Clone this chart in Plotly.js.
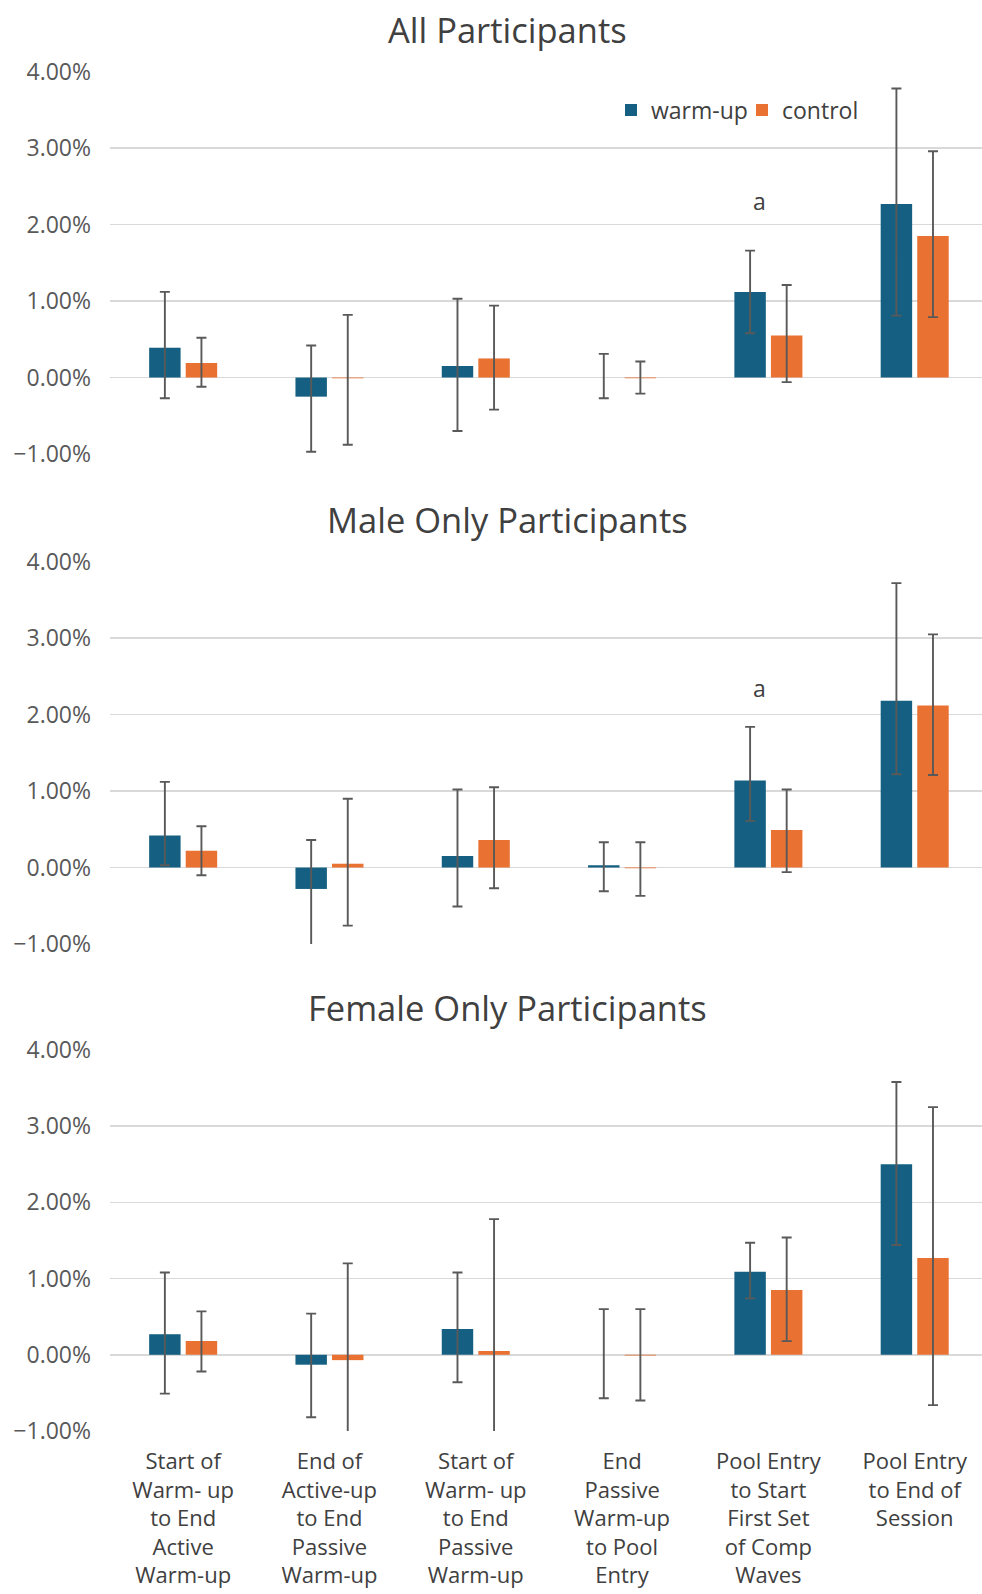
<!DOCTYPE html>
<html>
<head>
<meta charset="utf-8">
<script src="https://cdn.plot.ly/plotly-3.0.1.min.js"></script>
<style>html,body{margin:0;padding:0;background:#ffffff;}</style>
</head>
<body>
<div id="chart" style="width:982px;height:1594px;"></div>
<script>
// ---- data (percent change) ----
const categories = [
  "Start of<br>Warm- up<br>to End<br>Active<br>Warm-up",
  "End of<br>Active-up<br>to End<br>Passive<br>Warm-up",
  "Start of<br>Warm- up<br>to End<br>Passive<br>Warm-up",
  "End<br>Passive<br>Warm-up<br>to Pool<br>Entry",
  "Pool Entry<br>to Start<br>First Set<br>of Comp<br>Waves",
  "Pool Entry<br>to End of<br>Session"
];
const seriesNames = ["warm-up", "control"];
const panelTitles = ["All Participants", "Male Only Participants", "Female Only Participants"];
const sigLabel = "a";
const sigCategoryIndex = 4;
const sigY = [2.31, 2.35, null];

// All participants
const allWarm     = [0.39, -0.25, 0.15, 0.00, 1.12, 2.27];
const allWarmHigh = [1.12, 0.42, 1.03, 0.31, 1.66, 3.78];
const allWarmLow  = [-0.27, -0.97, -0.70, -0.27, 0.58, 0.81];
const allCtrl     = [0.19, -0.01, 0.25, -0.01, 0.55, 1.85];
const allCtrlHigh = [0.52, 0.82, 0.94, 0.21, 1.21, 2.96];
const allCtrlLow  = [-0.12, -0.88, -0.42, -0.21, -0.06, 0.79];

// Male only
const maleWarm     = [0.42, -0.28, 0.15, 0.03, 1.14, 2.18];
const maleWarmHigh = [1.12, 0.36, 1.02, 0.33, 1.84, 3.72];
const maleWarmLow  = [0.03, -1.05, -0.51, -0.31, 0.61, 1.22];
const maleCtrl     = [0.22, 0.05, 0.36, -0.01, 0.49, 2.12];
const maleCtrlHigh = [0.54, 0.90, 1.05, 0.33, 1.02, 3.05];
const maleCtrlLow  = [-0.10, -0.76, -0.27, -0.37, -0.06, 1.21];

// Female only
const femWarm     = [0.27, -0.13, 0.34, 0.00, 1.09, 2.50];
const femWarmHigh = [1.08, 0.54, 1.08, 0.60, 1.47, 3.58];
const femWarmLow  = [-0.51, -0.82, -0.36, -0.57, 0.74, 1.44];
const femCtrl     = [0.18, -0.07, 0.05, -0.01, 0.85, 1.27];
const femCtrlHigh = [0.57, 1.20, 1.78, 0.60, 1.54, 3.25];
const femCtrlLow  = [-0.22, -1.05, -1.05, -0.60, 0.18, -0.66];

// ---- build ----
const colors = ["#156082", "#E97132"];
const FONT = "Open Sans, Liberation Sans, Arial, sans-serif";
const panels = [
  [[allWarm, allWarmHigh, allWarmLow], [allCtrl, allCtrlHigh, allCtrlLow]],
  [[maleWarm, maleWarmHigh, maleWarmLow], [maleCtrl, maleCtrlHigh, maleCtrlLow]],
  [[femWarm, femWarmHigh, femWarmLow], [femCtrl, femCtrlHigh, femCtrlLow]]
];

const traces = [];
panels.forEach((panel, p) => {
  panel.forEach((s, k) => {
    const [v, hi, lo] = s;
    traces.push({
      type: "bar",
      name: seriesNames[k],
      x: categories,
      y: v,
      xaxis: p === 0 ? "x" : "x" + (p + 1),
      yaxis: p === 0 ? "y" : "y" + (p + 1),
      marker: {color: colors[k], line: {width: 0}},
      showlegend: p === 0,
      legend: k === 0 ? "legend" : "legend2",
      error_y: {
        type: "data", symmetric: false,
        array: hi.map((h, i) => h - v[i]),
        arrayminus: lo.map((l, i) => v[i] - l),
        color: "#595959", thickness: 1.9, width: 5
      },
      hoverinfo: "skip"
    });
  });
});

const H = 1594, L = 110, PW = 872;
const domains = [[1 - 454 / H, 1 - 71.7 / H], [1 - 944 / H, 1 - 561.7 / H], [1 - 1431 / H, 1 - 1050 / H]];
const legendBase = {
  orientation: "h", xref: "paper", yref: "paper",
  xanchor: "left", y: 1 - 110 / H, yanchor: "middle",
  font: {size: 23, color: "#404040", family: FONT},
  bgcolor: "rgba(0,0,0,0)"
};
const layout = {
  width: 982, height: H,
  margin: {l: L, r: 0, t: 0, b: 0, autoexpand: false},
  paper_bgcolor: "#ffffff", plot_bgcolor: "#ffffff",
  font: {family: FONT, color: "#595959"},
  barmode: "group", bargap: 0.5, bargroupgap: 0.14,
  showlegend: true,
  legend: Object.assign({}, legendBase, {x: (611 - L) / PW}),
  legend2: Object.assign({}, legendBase, {x: (742 - L) / PW}),
  annotations: [],
  hovermode: false
};
domains.forEach((d, p) => {
  const xa = p === 0 ? "xaxis" : "xaxis" + (p + 1);
  const ya = p === 0 ? "yaxis" : "yaxis" + (p + 1);
  const yref = p === 0 ? "y" : "y" + (p + 1);
  layout[xa] = {
    domain: [0, 1], anchor: yref, type: "category",
    range: [-0.5, 5.46], showgrid: false, zeroline: false, showline: false,
    ticks: "", showticklabels: p === 2,
    tickfont: {size: 22, color: "#404040", family: FONT},
    ticklabelstandoff: 15, automargin: false, fixedrange: true
  };
  layout[ya] = {
    domain: d, anchor: p === 0 ? "x" : "x" + (p + 1),
    range: [-1, 4], dtick: 1, tick0: 0,
    tickformat: ".2f", ticksuffix: "%",
    showgrid: true, gridcolor: "#d9d9d9", gridwidth: 1.6,
    zeroline: true, zerolinecolor: "#d9d9d9", zerolinewidth: 1.6,
    showline: false, ticks: "",
    tickfont: {size: 23, color: "#595959", family: FONT},
    ticklabelstandoff: 18, automargin: false, fixedrange: true
  };
  const titleY = [30, 520, 1007][p];
  layout.annotations.push({
    text: panelTitles[p], xref: "paper", yref: "paper",
    x: (507 - L) / PW, y: 1 - titleY / H, xanchor: "center", yanchor: "middle",
    showarrow: false, font: {size: 34.5, color: "#404040", family: FONT}
  });
  if (sigY[p] !== null) {
    layout.annotations.push({
      text: sigLabel, xref: p === 0 ? "x" : "x" + (p + 1), yref: yref,
      x: categories[sigCategoryIndex], y: sigY[p], xshift: -9,
      xanchor: "center", yanchor: "middle", showarrow: false,
      font: {size: 23, color: "#404040", family: FONT}
    });
  }
});

Plotly.newPlot("chart", traces, layout, {displayModeBar: false, staticPlot: true});
</script>
</body>
</html>
